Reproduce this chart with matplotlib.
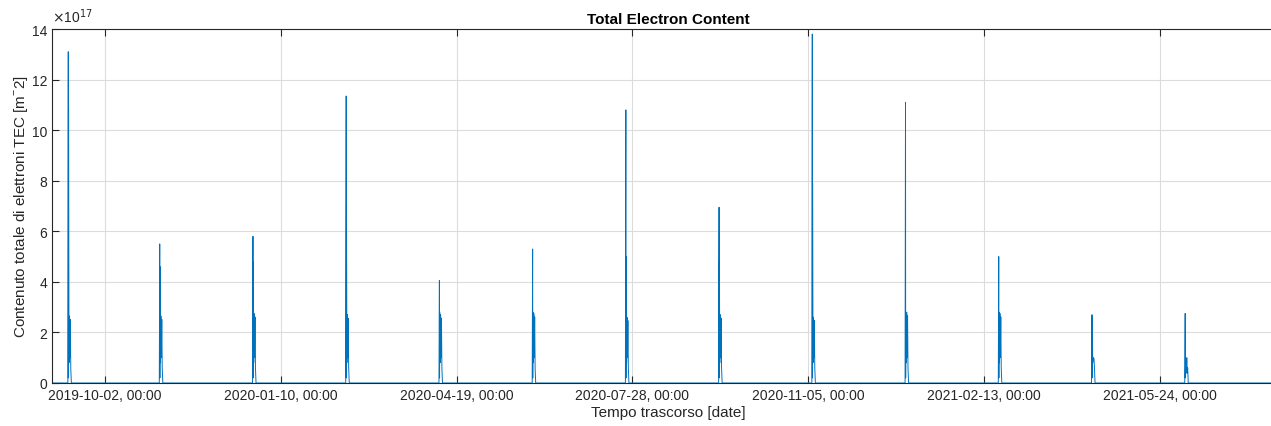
import numpy as np
import matplotlib
matplotlib.use("Agg")
import matplotlib.pyplot as plt
import matplotlib.dates as mdates
from matplotlib.ticker import FuncFormatter

# spike events (date, main peak, second peak, low-level burst) in 1e17 m^-2
spike_dates = ["2019-09-11", "2019-11-02", "2019-12-25", "2020-02-16", "2020-04-09",
               "2020-06-01", "2020-07-24", "2020-09-15", "2020-11-07", "2020-12-30",
               "2021-02-21", "2021-04-15", "2021-06-07"]
peak_main = [13.1, 5.5, 5.8, 11.35, 4.05, 5.3, 10.8, 6.95, 13.8, 11.1, 5.0, 2.7, 2.75]
peak_second = [11.0, 4.6, 4.8, 7.0, 2.8, 2.8, 5.0, 4.8, 7.9, 2.8, 2.8, 2.6, 0.6]
peak_burst = [2.65, 2.65, 2.75, 2.7, 2.7, 2.75, 2.6, 2.7, 2.6, 2.8, 2.75, 1.0, 0.4]

t_start = np.datetime64("2019-09-02T00:00")
t_end = np.datetime64("2021-08-03T00:00")
tick_start = np.datetime64("2019-10-02T00:00")

# build time series: zero baseline with short bursts
t = [t_start]
v = [0.0]
for d, a, b, c in zip(spike_dates, peak_main, peak_second, peak_burst):
    d0 = np.datetime64(d + "T00:00")
    hrs = [0, 6, 8, 10, 16, 22, 28, 34, 40, 48]
    vals = [0, a, 0.2, b, 0.8, c, 1.0, c * 0.95, 0.6, 0]
    for h, val in zip(hrs, vals):
        t.append(d0 + np.timedelta64(h, "h"))
        v.append(val)
t.append(t_end)
v.append(0.0)
t = np.array(t, dtype="datetime64[m]").astype("O")
v = np.array(v) * 1e17

plt.rcParams["font.family"] = ["Liberation Sans", "DejaVu Sans"]
fig = plt.figure(figsize=(12.71, 4.27), dpi=100)
ax = fig.add_axes([52 / 1271, 43 / 427, (1285 - 52) / 1271, 354 / 427])

ax.plot(t, v, color="#0072BD", lw=0.7)

ax.set_xlim(t_start.astype("O"), t_end.astype("O"))
ax.set_ylim(0, 14e17)
ax.set_yticks(np.arange(0, 15, 2) * 1e17)
ax.yaxis.set_major_formatter(FuncFormatter(lambda y, p: "%g" % (y / 1e17)))
ax.text(0.0, 1.012, r"$\times$10$^{17}$", transform=ax.transAxes, fontsize=10,
        color="#262626", ha="left", va="bottom")

xticks = [(tick_start + np.timedelta64(100 * i, "D")).astype("O") for i in range(7)]
ax.set_xticks(xticks)
ax.xaxis.set_major_formatter(mdates.DateFormatter("%Y-%m-%d, %H:%M"))

ax.grid(True, color="#dcdcdc", lw=0.8)
ax.set_axisbelow(True)
ax.tick_params(direction="in", top=True, right=True, colors="#262626",
               labelsize=10, length=5, width=0.8)
for s in ax.spines.values():
    s.set_color("#262626")
    s.set_linewidth(0.8)

ax.set_title("Total Electron Content", fontsize=11, fontweight="bold", pad=4)
ax.set_xlabel("Tempo trascorso [date]", fontsize=11, color="#262626", labelpad=2)
ax.set_ylabel(r"Contenuto totale di elettroni TEC [m$^{\mathregular{-}}$2]", fontsize=11,
              color="#262626", labelpad=1)

fig.savefig("out.png", dpi=100)
